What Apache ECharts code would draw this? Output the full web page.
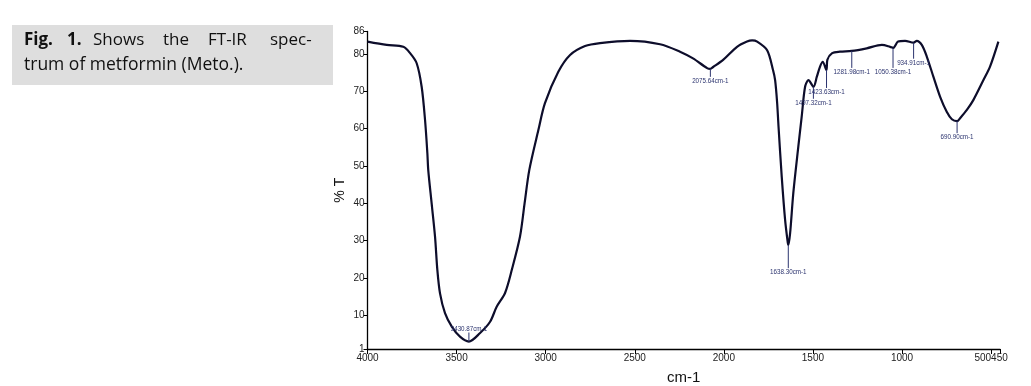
<!DOCTYPE html>
<html>
<head>
<meta charset="utf-8">
<script src="https://cdn.jsdelivr.net/npm/echarts@6/dist/echarts.min.js"></script>
<style>
html,body{margin:0;padding:0;background:#fff;}
#chart{width:1031px;height:386px;}
</style>
</head>
<body>
<div id="chart"></div>
<script>
// Spectrum: wavenumber (cm-1) and transmittance (%T)
const wavenumbers = [4000, 3892, 3799, 3761, 3724, 3696, 3677, 3664, 3659, 3640, 3621, 3608, 3593, 3565, 3527, 3481, 3431, 3368, 3312, 3275, 3228, 3190, 3144, 3118, 3092, 3041, 3004, 2929, 2863, 2779, 2695, 2526, 2358, 2246, 2173, 2094, 2076, 2060, 2004, 1926, 1870, 1841, 1813, 1757, 1724, 1712, 1701, 1693, 1675, 1656, 1641, 1638, 1628, 1610, 1582, 1563, 1544, 1525, 1497, 1478, 1460, 1445, 1424, 1419, 1392, 1348, 1282, 1198, 1113, 1067, 1050, 1022, 983, 935, 917, 889, 861, 824, 786, 749, 720, 691, 674, 636, 599, 543, 506, 459];
const transmittance = [83.3, 82.4, 81.9, 80.2, 77.5, 71.2, 62.3, 53.4, 48.9, 40.0, 31.1, 22.2, 15.9, 10.6, 7.0, 4.3, 3.0, 5.3, 8.3, 12.3, 16.0, 22.2, 31.1, 40.1, 48.9, 59.6, 66.8, 75.2, 79.7, 82.1, 82.9, 83.5, 82.6, 80.6, 78.8, 76.2, 76.0, 76.5, 78.4, 81.9, 83.3, 83.6, 83.3, 81.0, 75.7, 72.9, 67.0, 60.5, 47.1, 35.5, 29.4, 28.8, 32.0, 42.8, 55.2, 63.2, 71.2, 73.0, 71.2, 73.9, 76.6, 77.9, 75.7, 78.4, 80.2, 80.6, 80.8, 81.5, 82.4, 81.9, 81.6, 83.3, 83.5, 83.0, 83.5, 82.4, 79.3, 73.9, 68.5, 64.5, 62.5, 62.0, 62.8, 65.0, 67.7, 73.0, 76.6, 83.3];

// Peak annotations
const peakWavenumbers = [3430.87, 2075.64, 1638.30, 1497.32, 1423.63, 1281.98, 1050.38, 934.91, 690.90];
const peakTransmittance = [3.0, 76.0, 28.8, 71.2, 75.7, 80.8, 81.6, 83.0, 62.0];
const peakLabels = ['3430.87cm-1', '2075.64cm-1', '1638.30cm-1', '1497.32cm-1', '1423.63cm-1', '1281.98cm-1', '1050.38cm-1', '934.91cm-1', '690.90cm-1'];

// Axis ticks
const xTicks = [4000, 3500, 3000, 2500, 2000, 1500, 1000, 500, 450];
const yTicks = [1, 10, 20, 30, 40, 50, 60, 70, 80, 86];

// Caption
const captionLine1 = ['Fig.', '1.', 'Shows', 'the', 'FT-IR', 'spec-'];
const captionLine2 = 'trum of metformin (Meto.).';

// style: vertical offset of each peak label from its peak (px)
const peakLabelDy = [-13, 12, 27, 16, 22, 21, 24, 20, 16];

const NARROW = "'Liberation Sans Narrow', 'Liberation Sans', sans-serif";
const chart = echarts.init(document.getElementById('chart'), null, {renderer: 'canvas'});

const lineData = wavenumbers.map((w, i) => [w, transmittance[i]]);
const peakData = peakWavenumbers.map((w, i) => [w, peakTransmittance[i], i]);

// caption word positions (justified first line)
const wordX = [24, 67, 93, 163, 208, 270];
const captionGraphics = [
  {type: 'rect', left: 12, top: 25, shape: {width: 321, height: 60}, style: {fill: '#dedede'}, z: 0}
];
captionLine1.forEach((w, i) => {
  captionGraphics.push({
    type: 'text', left: wordX[i], top: 32, z: 1,
    style: {text: w, fill: '#111', font: (i < 2 ? 'bold ' : '') + "17px 'Open Sans', sans-serif"}
  });
});
captionGraphics.push({
  type: 'text', left: 24, top: 56, z: 1,
  style: {text: captionLine2, fill: '#111', font: "17.5px 'Open Sans', sans-serif"}
});

chart.setOption({
  animation: false,
  backgroundColor: '#fff',
  grid: {left: 367.5, right: 31, top: 31.5, bottom: 37, containLabel: false, outerBoundsMode: 'none'},
  xAxis: {
    type: 'value', inverse: true, min: 450, max: 4000,
    name: 'cm-1', nameLocation: 'middle', nameGap: 21, nameMoveOverlap: false,
    nameTextStyle: {fontFamily: NARROW, fontSize: 15, color: '#111'},
    axisLine: {show: true, onZero: false, lineStyle: {color: '#000', width: 1.3}},
    axisTick: {show: true, inside: false, length: 5, customValues: xTicks, lineStyle: {color: '#000'}},
    axisLabel: {
      customValues: xTicks, fontFamily: NARROW, fontSize: 10, color: '#222', margin: 4,
      formatter: v => v === 500 ? '500450' : (v === 450 ? '' : String(v))
    },
    splitLine: {show: false}
  },
  yAxis: {
    type: 'value', min: 1, max: 86,
    name: '% T', nameLocation: 'middle', nameGap: 20, nameRotate: 90, nameMoveOverlap: false,
    nameTextStyle: {fontFamily: NARROW, fontSize: 14, color: '#111'},
    axisLine: {show: true, onZero: false, lineStyle: {color: '#000', width: 1.3}},
    axisTick: {show: true, inside: false, length: 4, customValues: yTicks, lineStyle: {color: '#000'}},
    axisLabel: {customValues: yTicks, fontFamily: NARROW, fontSize: 10, color: '#222', margin: 3},
    splitLine: {show: false}
  },
  graphic: captionGraphics,
  series: [
    {
      type: 'line', data: lineData, showSymbol: false, smooth: 0.3,
      lineStyle: {color: '#0d0d2b', width: 2.2}, z: 2
    },
    {
      type: 'custom', data: peakData, z: 3,
      renderItem: function (params, api) {
        const p = api.coord([api.value(0), api.value(1)]);
        const idx = api.value(2);
        const dy = peakLabelDy[idx];
        const dir = dy < 0 ? -1 : 1;
        const lineEnd = p[1] + dy - dir * 4;
        return {
          type: 'group',
          children: [
            {type: 'line', shape: {x1: p[0], y1: p[1], x2: p[0], y2: lineEnd},
             style: {stroke: '#2b336e', lineWidth: 1}},
            {type: 'text', x: p[0], y: p[1] + dy, scaleX: 0.78, scaleY: 1,
             style: {text: peakLabels[idx], fill: '#2b336e', font: '8px ' + NARROW,
                     align: 'center', verticalAlign: 'middle'}}
          ]
        };
      }
    }
  ]
});
</script>
</body>
</html>
